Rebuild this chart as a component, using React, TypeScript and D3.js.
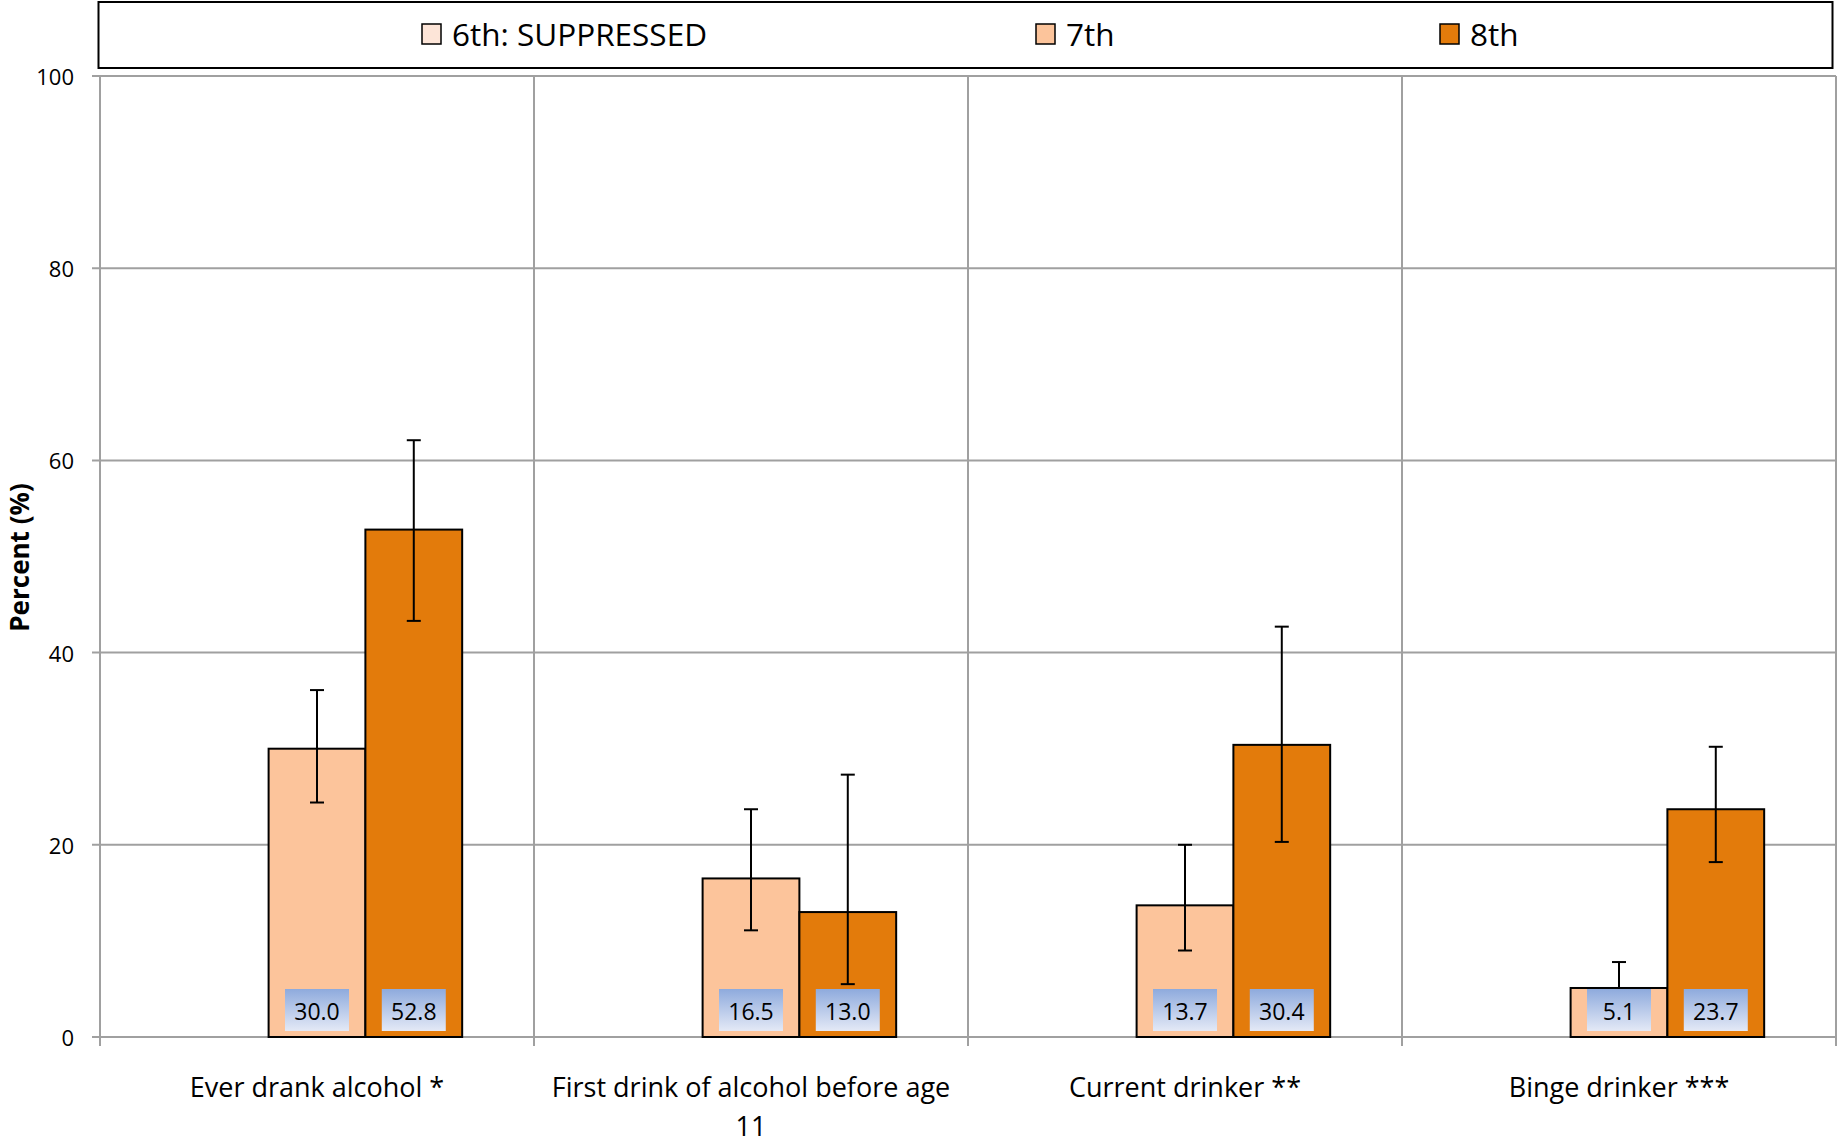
import React from "react";
import * as d3 from "d3";

const categories = ["Ever drank alcohol *", "First drink of alcohol before age 11", "Current drinker **", "Binge drinker ***"];
const categoryLines = [["Ever drank alcohol *"], ["First drink of alcohol before age", "11"], ["Current drinker **"], ["Binge drinker ***"]];
const seriesNames = ["6th: SUPPRESSED", "7th", "8th"];
const seriesColors = ["#fde5d8", "#fcc49b", "#e37b0b"];
const values7th = [30.0, 16.5, 13.7, 5.1];
const values8th = [52.8, 13.0, 30.4, 23.7];
const err7thLow = [24.4, 11.1, 9.0, 2.6];
const err7thHigh = [36.1, 23.7, 20.0, 7.8];
const err8thLow = [43.3, 5.5, 20.3, 18.2];
const err8thHigh = [62.1, 27.3, 42.7, 30.2];
const yTicks = [0, 20, 40, 60, 80, 100];

export default function App() {
  const W = 1839, H = 1144;
  const left = 100, right = 1836, top = 76, bottom = 1037;
  const x = d3.scaleBand<string>().domain(categories).range([left, right]).paddingInner(0).paddingOuter(0);
  const y = d3.scaleLinear().domain([0, 100]).range([bottom, top]);
  const bw = x.bandwidth() * 0.223;
  const grid = "#a0a0a0";
  const series = [
    { vals: values7th, lo: err7thLow, hi: err7thHigh, color: seriesColors[1], idx: 1 },
    { vals: values8th, lo: err8thLow, hi: err8thHigh, color: seriesColors[2], idx: 2 },
  ];
  const barX = (c: string, idx: number) => (x(c) as number) + x.bandwidth() / 2 + (idx - 1.5) * bw;
  const legendX = [422, 1036, 1440];
  return (
    <svg width={W} height={H} style={{ display: "block", position: "absolute", left: 0, top: 0 }}>
      <defs>
        <linearGradient id="lblgrad" x1="0" y1="0" x2="0" y2="1">
          <stop offset="0%" stopColor="#8eaadd" />
          <stop offset="100%" stopColor="#e4e9f6" />
        </linearGradient>
      </defs>
      <rect x={0} y={0} width={W} height={H} fill="#fff" />
      {/* legend */}
      <rect x={98.5} y={2} width={1734} height={66} fill="#fff" stroke="#000" strokeWidth={2} />
      {seriesNames.map((s, i) => (
        <g key={s}>
          <rect x={legendX[i]} y={24} width={19} height={20} fill={seriesColors[i]} stroke="#000" strokeWidth={1.5} />
          <text x={legendX[i] + 30} y={33} dominantBaseline="central" fontFamily="Open Sans" fontSize={31.5} fill="#000">{s}</text>
        </g>
      ))}
      {/* horizontal gridlines */}
      {yTicks.map(t => (
        <g key={t}>
          <line x1={left - 8} x2={right} y1={y(t)} y2={y(t)} stroke={grid} strokeWidth={2} />
          <text x={74} y={y(t)} textAnchor="end" dominantBaseline="central" fontFamily="Open Sans" fontSize={22} fill="#000">{t}</text>
        </g>
      ))}
      {/* vertical gridlines */}
      {categories.map((c) => (
        <line key={c} x1={x(c)} x2={x(c)} y1={top} y2={bottom + 9} stroke={grid} strokeWidth={2} />
      ))}
      <line x1={right} x2={right} y1={top} y2={bottom + 9} stroke={grid} strokeWidth={2} />
      {/* bars */}
      {series.map(s => categories.map((c, i) => (
        <rect key={c + s.idx} x={barX(c, s.idx)} y={y(s.vals[i])} width={bw} height={y(0) - y(s.vals[i])} fill={s.color} stroke="#000" strokeWidth={2} />
      )))}
      {/* error bars */}
      {series.map(s => categories.map((c, i) => {
        const cx = barX(c, s.idx) + bw / 2;
        return (
          <g key={"e" + c + s.idx} stroke="#000" strokeWidth={2}>
            <line x1={cx} x2={cx} y1={y(s.hi[i])} y2={y(s.lo[i])} />
            <line x1={cx - 7} x2={cx + 7} y1={y(s.hi[i])} y2={y(s.hi[i])} />
            <line x1={cx - 7} x2={cx + 7} y1={y(s.lo[i])} y2={y(s.lo[i])} />
          </g>
        );
      }))}
      {/* value labels */}
      {series.map(s => categories.map((c, i) => {
        const cx = barX(c, s.idx) + bw / 2;
        return (
          <g key={"l" + c + s.idx}>
            <rect x={cx - 32} y={989} width={64} height={42} fill="url(#lblgrad)" />
            <text x={cx} y={1011} textAnchor="middle" dominantBaseline="central" fontFamily="Open Sans" fontSize={23} fill="#000">{s.vals[i].toFixed(1)}</text>
          </g>
        );
      }))}
      {/* category labels */}
      {categories.map((c, i) => (
        <text key={"c" + c} textAnchor="middle" fontFamily="Open Sans" fontSize={27} fill="#000">
          {categoryLines[i].map((ln, j) => (
            <tspan key={j} x={(x(c) as number) + x.bandwidth() / 2} y={1097 + j * 39}>{ln}</tspan>
          ))}
        </text>
      ))}
      {/* y axis title */}
      <text transform={`translate(19,${(top + bottom) / 2 + 1}) rotate(-90)`} textAnchor="middle" dominantBaseline="central" fontFamily="Open Sans" fontWeight="bold" fontSize={26} fill="#000">Percent (%)</text>
    </svg>
  );
}
